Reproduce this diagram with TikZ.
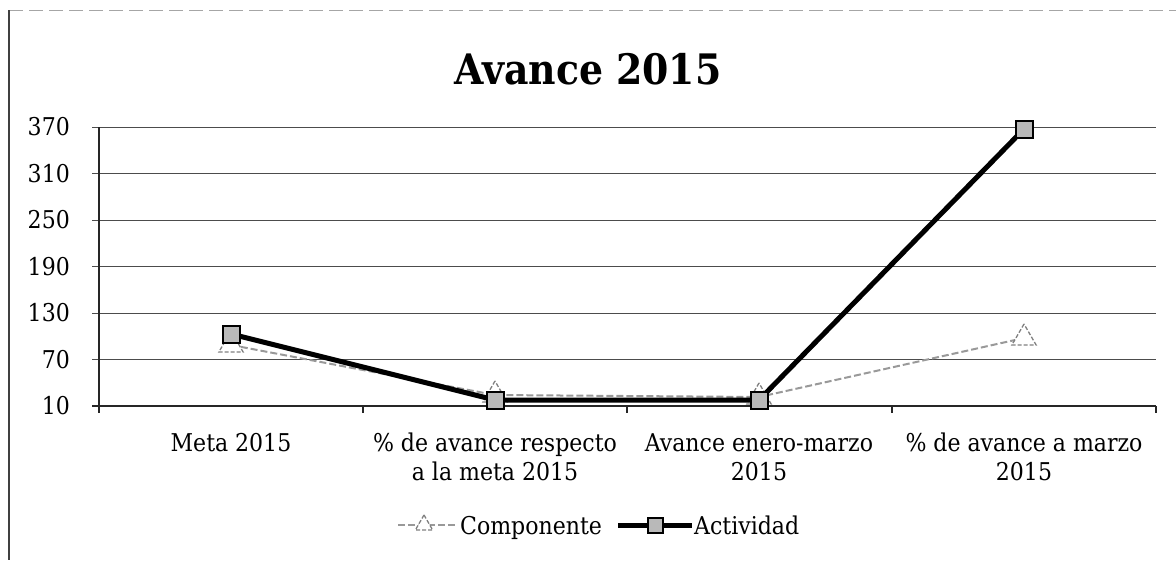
\documentclass[tikz,border=0pt]{standalone}
\usepackage{fontspec}
\setmainfont{DejaVu Serif Condensed}
\usetikzlibrary{shapes.geometric}
\tikzset{
  lbl/.style={font=\fontsize{24.5}{30}\selectfont, inner sep=0pt},
  ttl/.style={font=\fontsize{42}{48}\selectfont\bfseries, inner sep=0pt},
  gridln/.style={draw=black!70, line width=1pt},
  axisln/.style={draw=black!85, line width=1.2pt},
  actln/.style={draw=black, line width=5pt, line join=round},
  compln/.style={draw=gray!80, line width=2pt, dash pattern=on 7pt off 3pt},
  sqm/.style={rectangle, draw=black, line width=2pt, fill=gray!55, minimum size=17pt, inner sep=0pt},
  trm/.style={regular polygon, regular polygon sides=3, draw=gray, line width=1.3pt, dash pattern=on 4pt off 2pt, fill=white, minimum size=28pt, inner sep=0pt},
  framel/.style={draw=black!75, line width=1.2pt},
  framet/.style={draw=gray!70, line width=1pt, dash pattern=on 14pt off 6pt}
}
\begin{document}
\begin{tikzpicture}[x=1pt, y=-1pt]
\useasboundingbox (0,0) rectangle (1176,560);
% outer frame (only top and left visible)
\coordinate (fTL) at (9,10);
\coordinate (fTR) at (1176,10);
\coordinate (fBL) at (9,560);
\draw[framet] (fTL) -- (fTR);
\draw[framel] (fTL) -- (fBL);
% title
\node[ttl, anchor=base] (title) at (588,84) {Avance 2015};
% grid lines and y labels
\foreach \v/\yy in {370/127, 310/173.5, 250/220, 190/266.5, 130/313, 70/359.5} {
  \coordinate (gl\v) at (92,\yy);
  \coordinate (gr\v) at (1156,\yy);
  \draw[gridln] (gl\v) -- (gr\v);
  \node[lbl, anchor=east] (yl\v) at (70,\yy) {\v};
}
\node[lbl, anchor=east] (yl10) at (70,406) {10};
% axes
\coordinate (o) at (99,406);
\coordinate (xl) at (92,406);
\coordinate (xr) at (1156,406);
\coordinate (yt) at (99,127);
\draw[axisln] (xl) -- (xr);
\draw[axisln] (o) -- (yt);
\foreach \t [count=\i] in {99,363,627,892,1156} {
  \coordinate (ta\i) at (\t,406);
  \coordinate (tb\i) at (\t,413);
  \draw[axisln] (ta\i) -- (tb\i);
}
% category labels
\node[lbl, anchor=base] (c1) at (231,451) {Meta 2015};
\node[lbl, anchor=base] (c2a) at (495,451) {\% de avance respecto};
\node[lbl, anchor=base] (c2b) at (495,480) {a la meta 2015};
\node[lbl, anchor=base] (c3a) at (759,451) {Avance enero-marzo};
\node[lbl, anchor=base] (c3b) at (759,480) {2015};
\node[lbl, anchor=base] (c4a) at (1024,451) {\% de avance a marzo};
\node[lbl, anchor=base] (c4b) at (1024,480) {2015};
% data points
\coordinate (p1) at (231,345);
\coordinate (p2) at (495,395);
\coordinate (p3) at (759,397);
\coordinate (p4) at (1024,338);
\coordinate (a1) at (231,334);
\coordinate (a2) at (495,400);
\coordinate (a3) at (759,400);
\coordinate (a4) at (1024,129);
% Componente series
\draw[compln] (p1) -- (p2) -- (p3) -- (p4);
\foreach \i in {1,2,3,4} { \node[trm] (tri\i) at (p\i) {}; }
% Actividad series
\draw[actln] (a1) -- (a2) -- (a3) -- (a4);
\foreach \i in {1,2,3,4} { \node[sqm] (sq\i) at (a\i) {}; }
% legend
\coordinate (lc1) at (398,525);
\coordinate (lc2) at (457,525);
\draw[compln] (lc1) -- (lc2);
\node[trm, minimum size=20pt] (ltri) at (424,525) {};
\node[lbl, anchor=base west] (lcomp) at (460,534) {Componente};
\coordinate (la1) at (618,525);
\coordinate (la2) at (692,525);
\draw[actln] (la1) -- (la2);
\node[sqm, minimum size=15pt] (lsq) at (655,525) {};
\node[lbl, anchor=base west] (lact) at (694,534) {Actividad};
\end{tikzpicture}
\end{document}
